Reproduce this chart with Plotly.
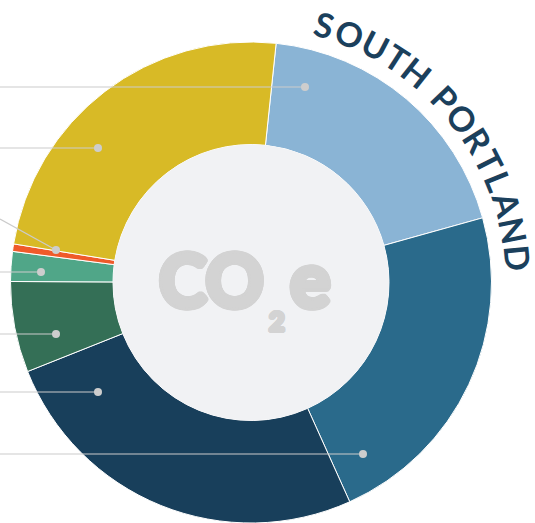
import math
import plotly.graph_objects as go

# ---- data ----
sectors = ["Residential Energy", "Commercial & Industrial Energy", "On-Road Transportation",
           "Off-Road & Marine", "Solid Waste", "Wastewater", "Electricity"]
shares = [19.0, 22.6, 25.7, 6.1, 2.0, 0.5, 24.1]
colors = ["#8AB4D5", "#2A6A8B", "#183F5B", "#346F56", "#50A688", "#EF5A2A", "#D8BA26"]
title_text = "SOUTH PORTLAND"

# ---- geometry (pixels) ----
W, H = 535, 523
CX, CY = 251, 282.5
R = 240.5
R_IN = 138

def px(x):
    return x / W

def py(y):
    return 1 - y / H

fig = go.Figure(go.Pie(
    labels=sectors, values=shares, sort=False, direction="clockwise", rotation=6,
    hole=R_IN / R, textinfo="none", hoverinfo="label+percent",
    marker=dict(colors=colors, line=dict(color="white", width=1)),
    domain=dict(x=[px(CX - R), px(CX + R)], y=[0, (2 * R) / H]),
    showlegend=False,
))

shapes = []
# center disc
shapes.append(dict(type="circle", xref="paper", yref="paper", layer="above",
                   x0=px(CX - R_IN), x1=px(CX + R_IN), y0=py(CY + R_IN), y1=py(CY - R_IN),
                   fillcolor="#F1F2F4", line=dict(width=0)))

# leader lines: (start, end) in pixels
leaders = [((0, 87), (305, 87)), ((0, 148), (98, 148)), ((0, 219), (56, 250)),
           ((0, 272), (41, 272)), ((0, 334), (56, 334)), ((0, 392), (98, 392)),
           ((0, 454), (363, 454))]
for (x0, y0), (x1, y1) in leaders:
    shapes.append(dict(type="line", xref="paper", yref="paper", layer="above",
                       x0=px(x0), y0=py(y0), x1=px(x1), y1=py(y1),
                       line=dict(color="#CBCBCB", width=1.2)))
    r = 4
    shapes.append(dict(type="circle", xref="paper", yref="paper", layer="above",
                       x0=px(x1 - r), x1=px(x1 + r), y0=py(y1 + r), y1=py(y1 - r),
                       fillcolor="#CDCDCD", line=dict(width=0)))

annotations = []
# CO2e in center (heavy weight emulated with a solid text-shadow halo)
gray = "#D3D3D3"

def halo(d, col):
    offs = []
    for k in range(16):
        a = 2 * math.pi * k / 16
        offs.append(f"{d*math.cos(a):.2f}px {d*math.sin(a):.2f}px 0 {col}")
    return ", ".join(offs)

annotations.append(dict(text="<b>CO</b>", xref="paper", yref="paper", x=px(211), y=py(279),
                        xanchor="center", yanchor="middle", showarrow=False,
                        font=dict(family="Lato", size=72, color=gray, shadow=halo(3, gray))))
annotations.append(dict(text="<b>2</b>", xref="paper", yref="paper", x=px(277), y=py(320),
                        xanchor="center", yanchor="middle", showarrow=False,
                        font=dict(family="Lato", size=27, color=gray, shadow=halo(1.8, gray))))
annotations.append(dict(text="<b>e</b>", xref="paper", yref="paper", x=px(310), y=py(277),
                        xanchor="center", yanchor="middle", showarrow=False,
                        font=dict(family="Lato", size=76, color=gray, shadow=halo(3, gray))))

# curved title along the arc
widths = {"S": .62, "O": .80, "U": .72, "T": .62, "H": .74, " ": .30, "P": .64,
          "R": .66, "L": .55, "A": .72, "N": .76, "D": .76}
adv = [widths[c] + 0.08 for c in title_text]
centers = []
acc = 0
for a in adv:
    centers.append(acc + a / 2)
    acc += a
a0, a1 = 16.0, 84.7
TR = 268
for c, cpos in zip(title_text, centers):
    if c == " ":
        continue
    ang = a0 + (cpos - centers[0]) / (centers[-1] - centers[0]) * (a1 - a0)
    th = math.radians(ang)
    x = CX + TR * math.sin(th)
    y = CY - TR * math.cos(th)
    annotations.append(dict(text="<b>" + c + "</b>", xref="paper", yref="paper",
                            x=px(x), y=py(y),
                            xanchor="center", yanchor="middle", showarrow=False,
                            textangle=ang,
                            font=dict(family="Lato", size=34, color="#1B405C")))

fig.update_layout(width=W, height=H, margin=dict(l=0, r=0, t=0, b=0),
                  paper_bgcolor="white", plot_bgcolor="white",
                  shapes=shapes, annotations=annotations)

fig.write_html("out.html", config={"displayModeBar": False},
               post_script="document.body.style.margin='0';document.body.style.overflow='hidden';")
